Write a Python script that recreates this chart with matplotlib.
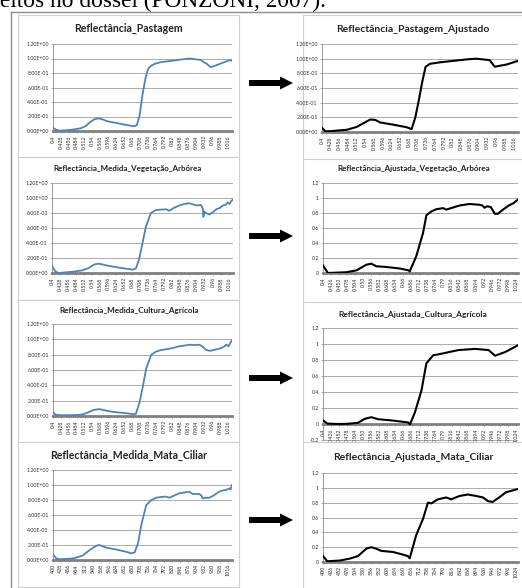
"""
Curvas de reflectância medidas (azul) e ajustadas (preto) para quatro alvos.
"""

import matplotlib
matplotlib.use("Agg")
import matplotlib.pyplot as plt
from matplotlib.patches import FancyArrow

# --- dados (comprimento de onda em nm, reflectância) ---
wl_pastagem = [400, 410, 420, 440, 460, 480, 500, 515, 530, 545, 560, 575, 590, 610,
               630, 650, 670, 685, 695, 705, 715, 725, 735, 745, 760, 780, 800, 820,
               840, 860, 880, 900, 920, 930, 940, 955, 970, 990, 1010, 1020, 1030]
refl_pastagem = [0.045, 0.02, 0.005, 0.008, 0.015, 0.025, 0.04, 0.07, 0.12, 0.16, 0.175,
                 0.16, 0.135, 0.12, 0.105, 0.09, 0.075, 0.065, 0.08, 0.22, 0.5, 0.72,
                 0.86, 0.9, 0.93, 0.95, 0.96, 0.97, 0.98, 0.99, 1.0, 0.99, 0.98, 0.95,
                 0.93, 0.88, 0.9, 0.93, 0.96, 0.975, 0.97]

wl_pastagem_aj = [400, 411, 430, 450, 480, 512, 533, 555, 571, 587, 629, 672, 688, 700,
                  712, 722, 733, 747, 779, 822, 865, 896, 939, 955, 993, 1030]
refl_pastagem_aj = [0.055, 0.01, 0.012, 0.02, 0.03, 0.07, 0.12, 0.17, 0.165, 0.13, 0.1,
                    0.065, 0.04, 0.2, 0.45, 0.68, 0.89, 0.93, 0.95, 0.97, 0.99, 1.0,
                    0.98, 0.89, 0.92, 0.97]

wl_arborea = [400, 405, 412, 423, 450, 480, 505, 528, 545, 560, 575, 590, 620, 650, 680,
              692, 703, 715, 727, 744, 762, 780, 797, 808, 825, 843, 860, 878, 895, 907,
              918, 925, 927, 930, 936, 948, 960, 972, 985, 995, 1005, 1012, 1018, 1024, 1030]
refl_arborea = [0.09, 0.06, 0.02, 0.0, 0.01, 0.02, 0.035, 0.067, 0.11, 0.125, 0.115, 0.1,
                0.08, 0.062, 0.045, 0.06, 0.18, 0.4, 0.62, 0.8, 0.84, 0.845, 0.85, 0.83,
                0.87, 0.9, 0.92, 0.93, 0.91, 0.9, 0.91, 0.86, 0.75, 0.82, 0.8, 0.78, 0.81,
                0.85, 0.87, 0.9, 0.91, 0.94, 0.92, 0.96, 0.98]

wl_arborea_aj = [400, 416, 475, 508, 540, 556, 572, 605, 648, 677, 680, 701, 723, 734,
                 750, 766, 788, 798, 841, 873, 905, 915, 922, 930, 942, 955, 965, 980,
                 1000, 1015, 1030]
refl_arborea_aj = [0.1, 0.0, 0.01, 0.035, 0.11, 0.125, 0.09, 0.08, 0.06, 0.035, 0.02,
                   0.22, 0.53, 0.77, 0.82, 0.85, 0.865, 0.845, 0.9, 0.92, 0.91, 0.9,
                   0.87, 0.89, 0.88, 0.79, 0.79, 0.84, 0.9, 0.93, 0.98]

wl_agricola = [400, 408, 423, 450, 480, 505, 528, 545, 563, 587, 610, 634, 660, 681, 692,
               704, 716, 728, 746, 763, 780, 798, 820, 845, 865, 881, 900, 916, 928, 940,
               952, 965, 987, 1000, 1010, 1018, 1024, 1030]
refl_agricola = [0.045, 0.02, 0.01, 0.01, 0.012, 0.02, 0.055, 0.08, 0.09, 0.07, 0.055,
                 0.045, 0.035, 0.025, 0.03, 0.17, 0.38, 0.62, 0.8, 0.84, 0.86, 0.87,
                 0.885, 0.91, 0.92, 0.93, 0.925, 0.93, 0.9, 0.86, 0.85, 0.86, 0.88, 0.9,
                 0.93, 0.91, 0.95, 0.99]

wl_agricola_aj = [400, 415, 450, 480, 513, 535, 556, 578, 621, 675, 681, 697, 718, 734,
                  756, 783, 837, 891, 935, 956, 988, 1030]
refl_agricola_aj = [0.05, 0.01, 0.005, 0.008, 0.02, 0.07, 0.09, 0.065, 0.05, 0.025, 0.0,
                    0.15, 0.42, 0.76, 0.86, 0.88, 0.925, 0.94, 0.925, 0.855, 0.9, 0.985]

wl_mata = [400, 405, 412, 423, 470, 505, 528, 552, 563, 587, 622, 657, 675, 687, 699,
           711, 728, 746, 763, 780, 798, 810, 827, 845, 862, 880, 892, 915, 922, 927,
           935, 950, 965, 985, 1000, 1010, 1020, 1025, 1030]
refl_mata = [0.075, 0.05, 0.02, 0.01, 0.02, 0.06, 0.13, 0.19, 0.2, 0.165, 0.14, 0.11,
             0.09, 0.1, 0.22, 0.47, 0.73, 0.8, 0.83, 0.84, 0.845, 0.83, 0.86, 0.89, 0.9,
             0.91, 0.88, 0.88, 0.86, 0.82, 0.83, 0.83, 0.86, 0.91, 0.93, 0.935, 0.955,
             0.94, 1.0]

wl_mata_aj = [400, 414, 454, 486, 513, 540, 556, 572, 588, 626, 658, 674, 680, 701, 723,
              739, 750, 771, 798, 814, 841, 868, 895, 917, 933, 948, 969, 991, 1030]
refl_mata_aj = [0.08, 0.01, 0.02, 0.045, 0.08, 0.18, 0.2, 0.18, 0.15, 0.135, 0.1, 0.08,
                0.05, 0.36, 0.58, 0.8, 0.79, 0.845, 0.87, 0.845, 0.89, 0.91, 0.89, 0.87,
                0.82, 0.81, 0.87, 0.94, 0.985]

# rótulos dos eixos
rot_um_28 = ["0.4", "0.428", "0.456", "0.484", "0.512", "0.54", "0.568", "0.596", "0.624",
             "0.652", "0.68", "0.708", "0.736", "0.764", "0.792", "0.82", "0.848", "0.876",
             "0.904", "0.932", "0.96", "0.988", "1.016"]
rot_um_26 = ["0.4", "0.426", "0.452", "0.478", "0.504", "0.53", "0.556", "0.582", "0.608",
             "0.634", "0.66", "0.686", "0.712", "0.738", "0.764", "0.79", "0.816", "0.842",
             "0.868", "0.894", "0.92", "0.946", "0.972", "0.998", "1.024"]
rot_nm_28 = ["400", "428", "456", "484", "512", "540", "568", "596", "624", "652", "680",
             "708", "736", "764", "792", "820", "848", "876", "904", "932", "960", "988",
             "1016"]
rot_nm_26 = ["400", "426", "452", "478", "504", "530", "556", "582", "608", "634", "660",
             "686", "712", "738", "764", "790", "816", "842", "868", "894", "920", "946",
             "972", "998", "1024"]
rot_y_cient = ["0.00E+00", "2.00E-01", "4.00E-01", "6.00E-01", "8.00E-01", "1.00E+00",
               "1.20E+00"]
rot_y = ["0", "0.2", "0.4", "0.6", "0.8", "1", "1.2"]
rot_y_neg = ["-0.2", "0", "0.2", "0.4", "0.6", "0.8", "1", "1.2"]

titulos = ["Reflectância_Pastagem", "Reflectância_Pastagem_Ajustado",
           "Reflectância_Medida_Vegetação_Arbórea", "Reflectância_Ajustada_Vegetação_Arbórea",
           "Reflectância_Medida_Cultura_Agrícola", "Reflectância_Ajustada_Cultura_Agrícola",
           "Reflectância_Medida_Mata_Ciliar", "Reflectância_Ajustada_Mata_Ciliar"]

W, H = 522, 588
AZUL = "#4F81BD"
FONTE = ["Lato", "DejaVu Sans"]


def caixa(x0, y0, x1, y1):
    # converte pixels (origem no topo) para fração da figura
    return [x0 / W, 1 - y1 / H, (x1 - x0) / W, (y1 - y0) / H]


def moldura(fig, ret):
    ax = fig.add_axes(caixa(*ret))
    ax.set_xticks([])
    ax.set_yticks([])
    for s in ax.spines.values():
        s.set_color("#d0d0d0")
        s.set_linewidth(0.8)
    return ax


def grafico(fig, area, wl, refl, cor, lw, rot_x, rot_yy):
    ax = fig.add_axes(caixa(*area))
    ax.plot(wl, refl, color=cor, lw=lw, solid_joinstyle="round", zorder=3)
    pos_x = [float(t) * 1000 if float(t) < 10 else float(t) for t in rot_x]
    pos_y = [float(t) for t in rot_yy]
    ax.set_xlim(400, 1030)
    ax.set_ylim(pos_y[0], pos_y[-1])
    ax.set_xticks(pos_x, rot_x)
    ax.set_yticks(pos_y, rot_yy)
    ax.grid(axis="y", color="#8a8a8a", lw=0.5)
    ax.set_axisbelow(True)
    ax.spines["top"].set_visible(False)
    ax.spines["right"].set_visible(False)
    ax.spines["bottom"].set_position(("data", 0))
    ax.spines["bottom"].set_color("#808080")
    ax.spines["bottom"].set_linewidth(2)
    ax.spines["left"].set_color("#8a8a8a")
    ax.spines["left"].set_linewidth(0.6)
    ax.tick_params(labelsize=3.8, colors="#8a8a8a", labelcolor="#333333",
                   length=1.5, width=0.5, pad=1.5)
    ax.tick_params(axis="x", labelrotation=90)
    for t in ax.get_xticklabels() + ax.get_yticklabels():
        t.set_family(FONTE)
    return ax


fig = plt.figure(figsize=(W / 100, H / 100), dpi=100)

# (moldura, área do gráfico, título (x, y, tamanho), série, cor, espessura, rótulos)
linhas = [
    [((18, 15, 239, 157), (53, 44, 232, 131), (128, 28, 7.6),
      wl_pastagem, refl_pastagem, AZUL, 1.3, rot_um_28, rot_y_cient),
     ((303, 15, 530, 159), (322, 44, 518, 132), (413, 30, 7.5),
      wl_pastagem_aj, refl_pastagem_aj, "black", 1.5, rot_um_28, rot_y_cient)],
    [((18, 157, 239, 300), (52, 183, 233, 273), (128, 168, 5.8),
      wl_arborea, refl_arborea, AZUL, 1.3, rot_um_28, rot_y_cient),
     ((303, 159, 530, 302), (323, 183, 518, 273), (414, 169, 5.8),
      wl_arborea_aj, refl_arborea_aj, "black", 1.5, rot_um_26, rot_y)],
    [((18, 300, 239, 442), (53, 324, 232, 416), (129, 311, 5.85),
      wl_agricola, refl_agricola, AZUL, 1.3, rot_um_28, rot_y_cient),
     ((303, 302, 530, 442), (323, 328, 518, 440.5), (413, 315, 6.0),
      wl_agricola_aj, refl_agricola_aj, "black", 1.5, rot_um_26, rot_y_neg)],
    [((18, 442, 239, 587), (53, 470, 232, 560), (129, 455, 7.6),
      wl_mata, refl_mata, AZUL, 1.3, rot_nm_28, rot_y_cient),
     ((303, 442, 530, 600), (323, 473, 518, 562), (413, 457, 7.45),
      wl_mata_aj, refl_mata_aj, "black", 1.5, rot_nm_26, rot_y)],
]

i = 0
for linha in linhas:
    for (ret, area, (tx, ty, tam), wl, refl, cor, lw, rx, ry) in linha:
        moldura(fig, ret)
        grafico(fig, area, wl, refl, cor, lw, rx, ry)
        fig.text(tx / W, 1 - ty / H, titulos[i], ha="center", va="center",
                 fontsize=tam, fontweight="bold", family=FONTE, color="#222222")
        i += 1

# camada por cima em coordenadas de pixel: setas, linhas do quadro e texto do documento
ov = fig.add_axes([0, 0, 1, 1], zorder=10)
ov.set_xlim(0, W)
ov.set_ylim(H, 0)
ov.axis("off")
ov.patch.set_alpha(0)

ov.plot([11, 11], [12, H], color="#8c8c8c", lw=1)
ov.plot([11, W], [12, 12], color="#8c8c8c", lw=1)

for y in [83, 236, 378, 520]:
    ov.add_patch(FancyArrow(249, y, 44, 0, width=6, head_width=13, head_length=13,
                            length_includes_head=True, color="black", lw=0))

ov.text(-8, 7, "feitos no dossel (PONZONI, 2007).", fontsize=16.8,
        family="Liberation Serif", va="baseline", ha="left", color="black")

fig.savefig("out.png", dpi=100)
